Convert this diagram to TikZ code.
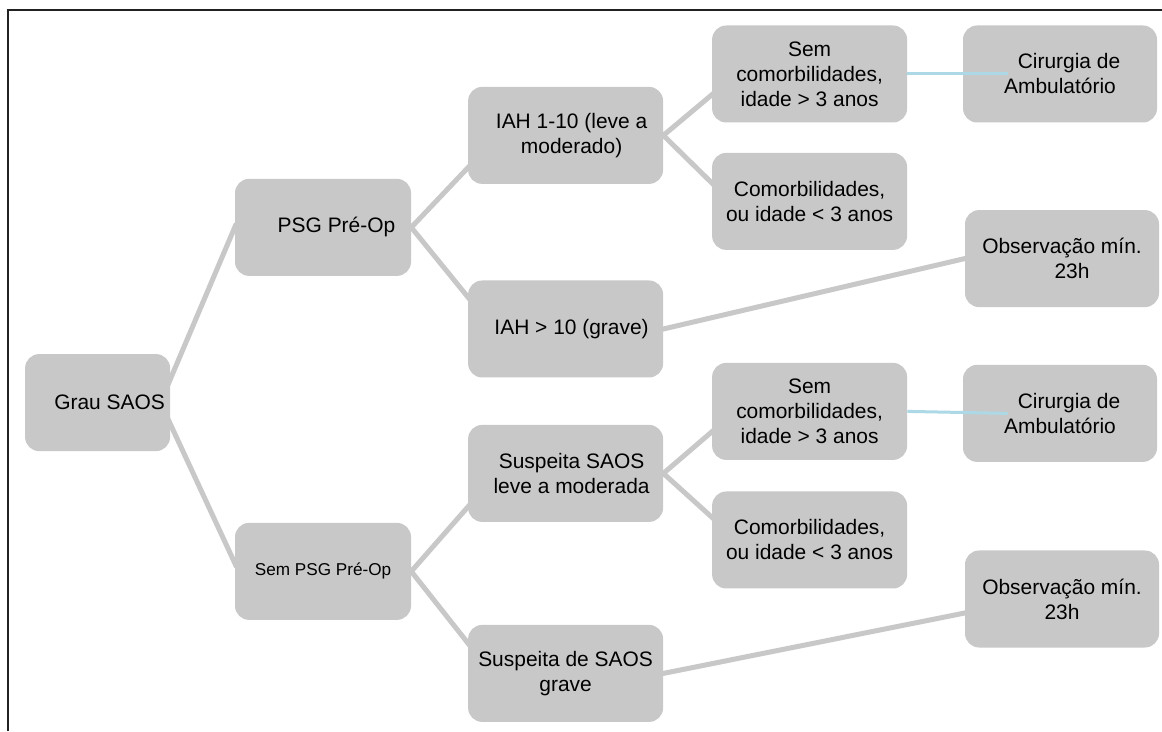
\documentclass[tikz,border=0pt]{standalone}
\usepackage{fontspec}
\setsansfont{Liberation Sans}
\usepackage{xcolor}
\usetikzlibrary{positioning, backgrounds, calc}
\definecolor{saosgray}{HTML}{C8C8C8}
\definecolor{saosblue}{HTML}{ADD8E6}
\definecolor{saosframe}{HTML}{222222}

\begin{document}
\begin{tikzpicture}[
    box/.style={fill=saosgray, rounded corners=10pt, minimum height=2.425cm, inner sep=2pt, align=center, font=\sffamily\fontsize{14.9}{17.8}\selectfont},
    rootbox/.style={box, minimum width=3.625cm},
    splitbox/.style={box, minimum width=4.4cm},
    casebox/.style={box, minimum width=4.875cm},
    endbox/.style={box, minimum width=4.85cm},
    link/.style={saosgray, line width=0.125cm, shorten <=-3pt, shorten >=-3pt},
    hintline/.style={saosblue, line width=0.075cm},
    frameline/.style={saosframe, line width=0.05cm},
]

% Frame
\useasboundingbox (0,0) rectangle (29.05,18.275);
\draw[frameline] (0.21,0) -- (0.21,18.025) -- (29.05,18.025);

% Root
\node[rootbox] (grau) at (2.44,8.21) {\hspace*{0.6cm}Grau SAOS};

% PSG level
\node[splitbox] (psg) at (8.075,12.59) {\hspace*{0.675cm}PSG Pré-Op};
\node[splitbox, font=\sffamily\fontsize{12.2}{15}\selectfont] (sempsg) at (8.075,3.99) {Sem PSG Pré-Op};

% Severity level
\node[casebox] (iah1) at (14.14,14.89) {\hspace*{0.3cm}IAH 1-10 (leve a\\\hspace*{0.3cm}moderado)};
\node[casebox] (iah10) at (14.14,10.05) {\hspace*{0.3cm}IAH > 10 (grave)};
\node[casebox] (susp1) at (14.14,6.44) {\hspace*{0.3cm}Suspeita SAOS\\\hspace*{0.3cm}leve a moderada};
\node[casebox] (susp2) at (14.14,1.44) {Suspeita de SAOS\\grave};

% Comorbidity level
\node[casebox] (semc1) at (20.24,16.425) {Sem\\comorbilidades,\\idade > 3 anos};
\node[casebox] (com1) at (20.24,13.24) {Comorbilidades,\\ou idade < 3 anos};
\node[casebox] (semc2) at (20.24,7.99) {Sem\\comorbilidades,\\idade > 3 anos};
\node[casebox] (com2) at (20.24,4.775) {Comorbilidades,\\ou idade < 3 anos};

% Outcomes
\node[endbox] (cir1) at (26.5,16.425) {\hspace*{0.45cm}Cirurgia de\\Ambulatório};
\node[endbox] (obs1) at (26.55,11.81) {Observação mín.\\\hspace*{0.5cm}23h};
\node[endbox] (cir2) at (26.5,7.94) {\hspace*{0.45cm}Cirurgia de\\Ambulatório};
\node[endbox] (obs2) at (26.55,3.3) {Observação mín.\\23h};

% Links
\begin{scope}[on background layer]
\fill[white] (0,0) rectangle (29.05,18.275);
\draw[link] ([xshift=-0.25cm]grau.east) -- (psg.west);
\draw[link] ([xshift=-0.25cm]grau.east) -- ([yshift=0.21cm]sempsg.west);
\draw[link] (psg.east) -- ([yshift=-0.81cm]iah1.west);
\draw[link] (psg.east) -- ([yshift=0.8cm]iah10.west);
\draw[link] (sempsg.east) -- ([yshift=-0.84cm]susp1.west);
\draw[link] (sempsg.east) -- ([yshift=0.76cm]susp2.west);
\draw[link] (iah1.east) -- ([yshift=-0.52cm]semc1.west);
\draw[link] (iah1.east) -- ([yshift=0.46cm]com1.west);
\draw[link] (susp1.east) -- ([yshift=-0.51cm]semc2.west);
\draw[link] (susp1.east) -- ([yshift=0.57cm]com2.west);
\draw[link] (iah10.east) -- (obs1.west);
\draw[link] (susp2.east) -- ([yshift=-0.35cm]obs2.west);
\end{scope}

% Ambulatory hints
\draw[hintline] (semc1.east) -- ([xshift=1.125cm]cir1.west);
\draw[hintline] (semc2.east) -- ([xshift=1.125cm]cir2.west);

\end{tikzpicture}
\end{document}
